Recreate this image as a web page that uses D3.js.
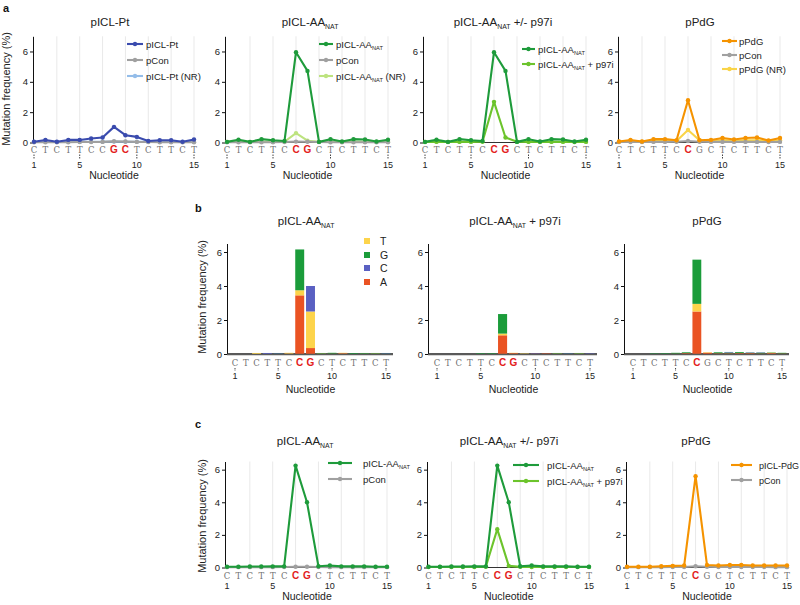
<!DOCTYPE html>
<html lang="en">
<head>
<meta charset="utf-8">
<title>Mutation frequency per nucleotide</title>
<script src="https://cdn.jsdelivr.net/npm/d3@7"></script>
<style>
  body { margin: 0; background: #fff; }
  svg { display: block; font-family: "Liberation Sans", Arial, sans-serif; }
</style>
</head>
<body>
<script>
// ---- data ----
var positions = [1, 2, 3, 4, 5, 6, 7, 8, 9, 10, 11, 12, 13, 14, 15];
var sequence = ["C", "T", "C", "T", "T", "C", "C", "G", "C", "T", "C", "T", "T", "C", "T"];
var numberedPositions = [1, 5, 10, 15];
var gridPositions = [3, 5, 7, 9, 11, 13, 15];
var yTickValues = [0, 2, 4, 6];
var bases = ["A", "T", "G", "C"];
var legendBases = ["T", "G", "C", "A"];

// panel a
var aPtMain = [0.05, 0.17, 0.05, 0.17, 0.17, 0.26, 0.33, 1.03, 0.48, 0.37, 0.1, 0.15, 0.15, 0.05, 0.2];
var aPtCon  = [0.02, 0.02, 0.02, 0.02, 0.03, 0.03, 0.04, 0.08, 0.07, 0.04, 0.03, 0.02, 0.02, 0.02, 0.02];
var aPtNR   = [0.03, 0.04, 0.03, 0.04, 0.04, 0.05, 0.05, 0.06, 0.05, 0.05, 0.04, 0.04, 0.04, 0.03, 0.04];
var aAAMain = [0.04, 0.18, 0.04, 0.22, 0.15, 0.1, 5.95, 4.72, 0.04, 0.22, 0.07, 0.22, 0.2, 0.07, 0.18];
var aAACon  = [0.02, 0.02, 0.02, 0.02, 0.02, 0.03, 0.06, 0.05, 0.03, 0.02, 0.02, 0.02, 0.02, 0.02, 0.02];
var aAANR   = [0.04, 0.05, 0.04, 0.05, 0.05, 0.05, 0.62, 0.12, 0.04, 0.05, 0.04, 0.05, 0.05, 0.04, 0.05];
var aP97Main = [0.04, 0.18, 0.04, 0.22, 0.15, 0.1, 5.95, 4.72, 0.04, 0.22, 0.07, 0.22, 0.2, 0.07, 0.18];
var aP97Drug = [0.03, 0.04, 0.03, 0.04, 0.04, 0.05, 2.68, 0.33, 0.05, 0.04, 0.03, 0.04, 0.04, 0.03, 0.04];
var aPdgMain = [0.07, 0.17, 0.07, 0.22, 0.22, 0.15, 2.78, 0.15, 0.17, 0.3, 0.2, 0.3, 0.33, 0.13, 0.3];
var aPdgCon  = [0.03, 0.03, 0.03, 0.04, 0.04, 0.05, 0.1, 0.05, 0.04, 0.04, 0.04, 0.04, 0.04, 0.03, 0.04];
var aPdgNR   = [0.06, 0.1, 0.06, 0.12, 0.12, 0.1, 0.83, 0.15, 0.12, 0.15, 0.12, 0.15, 0.15, 0.1, 0.15];

// panel b (stacked by substituted base)
var bAA_A = [0, 0, 0, 0, 0, 0.02, 3.45, 0.35, 0, 0.02, 0.04, 0, 0, 0, 0];
var bAA_T = [0, 0, 0.06, 0, 0, 0.05, 0.3, 2.15, 0.03, 0, 0.03, 0, 0.02, 0.03, 0];
var bAA_G = [0, 0, 0, 0, 0.03, 0, 2.4, 0, 0.03, 0.05, 0, 0.05, 0.04, 0.03, 0.03];
var bAA_C = [0, 0, 0, 0.06, 0.03, 0, 0, 1.5, 0, 0, 0, 0, 0, 0, 0.03];
var bP97_A = [0, 0, 0, 0, 0, 0, 1.1, 0.05, 0, 0.02, 0.03, 0, 0, 0, 0];
var bP97_T = [0, 0, 0, 0, 0, 0, 0.1, 0.02, 0.03, 0, 0, 0.03, 0, 0.03, 0];
var bP97_G = [0, 0, 0, 0, 0.04, 0.04, 1.15, 0, 0, 0, 0, 0.03, 0.03, 0.03, 0];
var bP97_C = [0, 0, 0, 0, 0, 0, 0, 0, 0, 0.03, 0, 0, 0.03, 0, 0.03];
var bPdg_A = [0, 0, 0, 0, 0.02, 0.05, 2.5, 0.08, 0.04, 0.04, 0.05, 0.05, 0.03, 0.05, 0.03];
var bPdg_T = [0, 0, 0, 0, 0, 0, 0.45, 0.03, 0, 0, 0, 0, 0, 0.03, 0];
var bPdg_G = [0, 0, 0.03, 0.04, 0.05, 0.05, 2.6, 0, 0.06, 0.05, 0.06, 0.03, 0.05, 0.02, 0.04];
var bPdg_C = [0, 0, 0, 0, 0, 0, 0, 0, 0, 0.03, 0, 0.02, 0.02, 0, 0];

// panel c
var cAAMain  = [0.05, 0.05, 0.06, 0.06, 0.07, 0.07, 6.25, 4.0, 0.08, 0.12, 0.07, 0.07, 0.07, 0.05, 0.05];
var cAACon   = [0.02, 0.02, 0.02, 0.02, 0.02, 0.03, 0.05, 0.05, 0.03, 0.02, 0.02, 0.02, 0.02, 0.02, 0.02];
var cP97Main = [0.05, 0.05, 0.06, 0.06, 0.07, 0.07, 6.25, 4.0, 0.08, 0.12, 0.07, 0.07, 0.07, 0.05, 0.05];
var cP97Drug = [0.03, 0.03, 0.03, 0.03, 0.03, 0.05, 2.35, 0.1, 0.04, 0.03, 0.03, 0.03, 0.03, 0.03, 0.03];
var cPdgMain = [0.05, 0.05, 0.05, 0.08, 0.1, 0.12, 5.6, 0.15, 0.12, 0.15, 0.15, 0.12, 0.12, 0.12, 0.12];
var cPdgCon  = [0.02, 0.02, 0.02, 0.02, 0.03, 0.03, 0.08, 0.05, 0.03, 0.03, 0.03, 0.03, 0.03, 0.02, 0.02];

// ---- styles ----
var col = {
  blue: "#3a4bae", gray: "#a0a0a0", lightBlue: "#94bde9",
  green: "#1e9b3b", nrGreen: "#bde37f", drugGreen: "#6cc42c",
  orange: "#f59300", yellow: "#f9d448",
  A: "#ea5323", T: "#fdd44b", G: "#1b9c3a", C: "#5a60c2",
  red: "#e3201b"
};

var rowA = { base: 142.5, yMax: 7, top: 36.3, letterDy: 10, numDy: 25, nucDy: 36, titleY: 26, grid: true };
var rowB = { base: 354, yMax: 6.5, top: 243.5, letterDy: 12, numDy: 25, nucDy: 39, titleY: 225, grid: false };
var rowC = { base: 567.5, yMax: 6.5, top: 461.5, letterDy: 11, numDy: 21, nucDy: 32.5, titleY: 445, grid: true };

var svg = d3.select("body").append("svg")
  .attr("width", 800).attr("height", 605);

// writes text parts, "_xxx" parts become subscripts
function richText(sel, parts) {
  var shift = 0;
  parts.forEach(function (p) {
    var sub = p.charAt(0) === "_";
    var t = sel.append("tspan").text(sub ? p.slice(1) : p);
    var want = sub ? 2.5 : 0;
    if (want !== shift) t.attr("dy", want - shift);
    if (sub) t.attr("font-size", "0.6em");
    shift = want;
  });
}

function isRed(p, d) { return p.red.indexOf(d) >= 0; }

function drawFrame(p, row) {
  var g = svg.append("g");
  var x = d3.scaleLinear().domain([1, 15]).range([p.x1, p.x15]);
  var y = d3.scaleLinear().domain([0, row.yMax]).range([row.base, row.top]);

  if (row.grid) {
    g.selectAll(".grid").data(gridPositions).enter().append("line")
      .attr("x1", function (d) { return x(d); }).attr("x2", function (d) { return x(d); })
      .attr("y1", row.base).attr("y2", row.top)
      .attr("stroke", "#e9e9e9").attr("stroke-width", 1);
  }

  // x axis line
  g.append("line")
    .attr("x1", p.axisX).attr("x2", p.xEnd)
    .attr("y1", row.base).attr("y2", row.base)
    .attr("stroke", p.bars ? "#5a5a5a" : "#333")
    .attr("stroke-width", p.bars ? 2 : 1);

  // y axis
  var ax = g.append("g")
    .attr("transform", "translate(" + p.axisX + ",0)")
    .call(d3.axisLeft(y).tickValues(yTickValues).tickFormat(d3.format("d"))
      .tickSize(3).tickSizeOuter(0).tickPadding(2));
  ax.select(".domain").attr("stroke", "#111");
  ax.selectAll(".tick line").attr("stroke", "#111");
  ax.selectAll(".tick text").attr("font-size", 9.5).attr("fill", "#222")
    .attr("font-family", "'Liberation Sans', Arial, sans-serif");

  // nucleotide letters
  g.selectAll(".letter").data(positions).enter().append("text")
    .attr("x", function (d) { return x(d); })
    .attr("y", row.base + row.letterDy)
    .attr("text-anchor", "middle")
    .attr("font-weight", function (d) { return isRed(p, d) ? "bold" : "normal"; })
    .attr("font-family", function (d) {
      return isRed(p, d) ? "'Liberation Sans', Arial, sans-serif" : "'DejaVu Serif', serif";
    })
    .attr("fill", function (d) { return isRed(p, d) ? col.red : "#707070"; })
    .style("font-size", function (d) { return isRed(p, d) ? "10px" : "8.5px"; })
    .text(function (d, i) { return sequence[i]; });

  // dashed ticks + numbers
  g.selectAll(".ntick").data(numberedPositions).enter().append("line")
    .attr("x1", function (d) { return x(d); }).attr("x2", function (d) { return x(d); })
    .attr("y1", row.base + row.letterDy + 2).attr("y2", row.base + row.numDy - 8)
    .attr("stroke", "#444").attr("stroke-width", 1).attr("stroke-dasharray", "1.5,1");
  g.selectAll(".num").data(numberedPositions).enter().append("text")
    .attr("x", function (d) { return x(d); })
    .attr("y", row.base + row.numDy)
    .attr("text-anchor", "middle").attr("font-size", 9).attr("fill", "#222")
    .text(function (d) { return d; });

  g.append("text")
    .attr("x", (p.x1 + p.x15) / 2).attr("y", row.base + row.nucDy)
    .attr("text-anchor", "middle").attr("font-size", 10.5).attr("fill", "#222")
    .text("Nucleotide");

  var title = g.append("text")
    .attr("x", p.titleX).attr("y", row.titleY)
    .attr("text-anchor", "middle").attr("font-size", 11.5).attr("fill", "#222");
  richText(title, p.title);

  if (p.yLabel) {
    g.append("text")
      .attr("transform", "translate(" + p.yLabel[0] + "," + p.yLabel[1] + ") rotate(-90)")
      .attr("text-anchor", "middle").attr("font-size", 11).attr("fill", "#222")
      .text("Mutation frequency (%)");
  }
  return { g: g, x: x, y: y };
}

function drawLinePlot(p, row) {
  var f = drawFrame(p, row);
  var line = d3.line()
    .x(function (d, i) { return f.x(positions[i]); })
    .y(function (d) { return f.y(d); });

  p.series.slice().reverse().forEach(function (s) {
    f.g.append("path").datum(s.values)
      .attr("d", line).attr("fill", "none")
      .attr("stroke", s.color).attr("stroke-width", 2.1)
      .attr("stroke-linejoin", "round");
    f.g.selectAll(null).data(s.values).enter().append("circle")
      .attr("cx", function (d, i) { return f.x(positions[i]); })
      .attr("cy", function (d) { return f.y(d); })
      .attr("r", 2.2).attr("fill", s.color);
  });

  // legend
  p.series.forEach(function (s, i) {
    var ly = p.legend.ys[i];
    f.g.append("line")
      .attr("x1", p.legend.lx0).attr("x2", p.legend.lx1)
      .attr("y1", ly).attr("y2", ly)
      .attr("stroke", s.color).attr("stroke-width", 2.1);
    f.g.append("circle")
      .attr("cx", (p.legend.lx0 + p.legend.lx1) / 2).attr("cy", ly)
      .attr("r", 2.2).attr("fill", s.color);
    var t = f.g.append("text")
      .attr("x", p.legend.tx).attr("y", ly + 3.5)
      .attr("font-size", p.legend.size || 9.5).attr("fill", "#222");
    richText(t, s.name);
  });
}

function drawBarPlot(p, row) {
  var f = drawFrame(p, row);
  var step = (p.x15 - p.x1) / 14;
  var xb = d3.scaleBand().domain(positions)
    .range([p.x1 - step / 2, p.x15 + step / 2]).paddingInner(0.17).paddingOuter(0.085);

  var table = positions.map(function (pos, i) {
    return { pos: pos, A: p.stack.A[i], T: p.stack.T[i], G: p.stack.G[i], C: p.stack.C[i] };
  });
  var layers = d3.stack().keys(bases)(table);

  f.g.selectAll(".layer").data(layers).enter().append("g")
    .attr("fill", function (d) { return col[d.key]; })
    .selectAll("rect").data(function (d) { return d; }).enter().append("rect")
      .attr("x", function (d) { return xb(d.data.pos); })
      .attr("width", xb.bandwidth())
      .attr("y", function (d) { return f.y(d[1]); })
      .attr("height", function (d) { return Math.max(0, f.y(d[0]) - f.y(d[1])); });

  // redraw axis line over small bars
  f.g.append("line")
    .attr("x1", p.axisX).attr("x2", p.xEnd)
    .attr("y1", row.base + 0.5).attr("y2", row.base + 0.5)
    .attr("stroke", "#5a5a5a").attr("stroke-width", 1.5);

  if (p.legend) {
    legendBases.forEach(function (b, i) {
      var ly = p.legend.ys[i];
      f.g.append("rect")
        .attr("x", p.legend.sx).attr("y", ly - 3)
        .attr("width", 6).attr("height", 6).attr("fill", col[b]);
      f.g.append("text")
        .attr("x", p.legend.tx).attr("y", ly + 4)
        .attr("font-size", 10.5).attr("fill", "#222").text(b);
    });
  }
}

// ---- panel a ----
drawLinePlot({
  x1: 34, x15: 194, axisX: 33, xEnd: 194, titleX: 110, title: ["pICL-Pt"], red: [8, 9], yLabel: [10, 89],
  series: [
    { name: ["pICL-Pt"], values: aPtMain, color: col.blue },
    { name: ["pCon"], values: aPtCon, color: col.gray },
    { name: ["pICL-Pt (NR)"], values: aPtNR, color: col.lightBlue }
  ],
  legend: { lx0: 127, lx1: 143, tx: 146, ys: [44, 60, 76] }
}, rowA);

drawLinePlot({
  x1: 227, x15: 388, axisX: 225, xEnd: 388, titleX: 310, title: ["pICL-AA", "_NAT"], red: [7, 8],
  series: [
    { name: ["pICL-AA", "_NAT"], values: aAAMain, color: col.green },
    { name: ["pCon"], values: aAACon, color: col.gray },
    { name: ["pICL-AA", "_NAT", " (NR)"], values: aAANR, color: col.nrGreen }
  ],
  legend: { lx0: 319, lx1: 333, tx: 336, ys: [44, 60, 76] }
}, rowA);

drawLinePlot({
  x1: 425, x15: 586, axisX: 423, xEnd: 586, titleX: 503, title: ["pICL-AA", "_NAT", " +/- p97i"], red: [7, 8],
  series: [
    { name: ["pICL-AA", "_NAT"], values: aP97Main, color: col.green },
    { name: ["pICL-AA", "_NAT", " + p97i"], values: aP97Drug, color: col.drugGreen }
  ],
  legend: { lx0: 522, lx1: 535, tx: 538, ys: [49, 64] }
}, rowA);

drawLinePlot({
  x1: 619, x15: 780, axisX: 618, xEnd: 780, titleX: 700, title: ["pPdG"], red: [7],
  series: [
    { name: ["pPdG"], values: aPdgMain, color: col.orange },
    { name: ["pCon"], values: aPdgCon, color: col.gray },
    { name: ["pPdG (NR)"], values: aPdgNR, color: col.yellow }
  ],
  legend: { lx0: 722, lx1: 737, tx: 739, ys: [41, 55, 69] }
}, rowA);

// ---- panel b ----
drawBarPlot({
  x1: 235, x15: 386, axisX: 227, xEnd: 393, titleX: 306, title: ["pICL-AA", "_NAT"], red: [7, 8], yLabel: [206, 297],
  bars: true, stack: { A: bAA_A, T: bAA_T, G: bAA_G, C: bAA_C },
  legend: { sx: 364, tx: 380, ys: [241, 255, 268, 282] }
}, rowB);

drawBarPlot({
  x1: 437, x15: 590, axisX: 428, xEnd: 597, titleX: 515, title: ["pICL-AA", "_NAT", " + p97i"], red: [7, 8],
  bars: true, stack: { A: bP97_A, T: bP97_T, G: bP97_G, C: bP97_C }
}, rowB);

drawBarPlot({
  x1: 633, x15: 782, axisX: 624, xEnd: 789, titleX: 707, title: ["pPdG"], red: [7],
  bars: true, stack: { A: bPdg_A, T: bPdg_T, G: bPdg_G, C: bPdg_C }
}, rowB);

// ---- panel c ----
drawLinePlot({
  x1: 227, x15: 387, axisX: 225, xEnd: 387, titleX: 305, title: ["pICL-AA", "_NAT"], red: [7, 8], yLabel: [206, 516],
  series: [
    { name: ["pICL-AA", "_NAT"], values: cAAMain, color: col.green },
    { name: ["pCon"], values: cAACon, color: col.gray }
  ],
  legend: { lx0: 328, lx1: 352, tx: 363, ys: [463, 479] }
}, rowC);

drawLinePlot({
  x1: 428.5, x15: 589, axisX: 427, xEnd: 589, titleX: 509, title: ["pICL-AA", "_NAT", " +/- p97i"], red: [7, 8],
  series: [
    { name: ["pICL-AA", "_NAT"], values: cP97Main, color: col.green },
    { name: ["pICL-AA", "_NAT", " + p97i"], values: cP97Drug, color: col.drugGreen }
  ],
  legend: { lx0: 513, lx1: 539, tx: 547, ys: [465, 481] }
}, rowC);

drawLinePlot({
  x1: 627, x15: 787, axisX: 626, xEnd: 787, titleX: 696, title: ["pPdG"], red: [7],
  series: [
    { name: ["pICL-PdG"], values: cPdgMain, color: col.orange },
    { name: ["pCon"], values: cPdgCon, color: col.gray }
  ],
  legend: { lx0: 731, lx1: 752, tx: 759, size: 9, ys: [465, 480] }
}, rowC);

// panel letters
[["a", 3, 12], ["b", 195, 212], ["c", 195, 428]].forEach(function (l) {
  svg.append("text").attr("x", l[1]).attr("y", l[2])
    .attr("font-size", 11).attr("font-weight", "bold").attr("fill", "#111").text(l[0]);
});
</script>
</body>
</html>
